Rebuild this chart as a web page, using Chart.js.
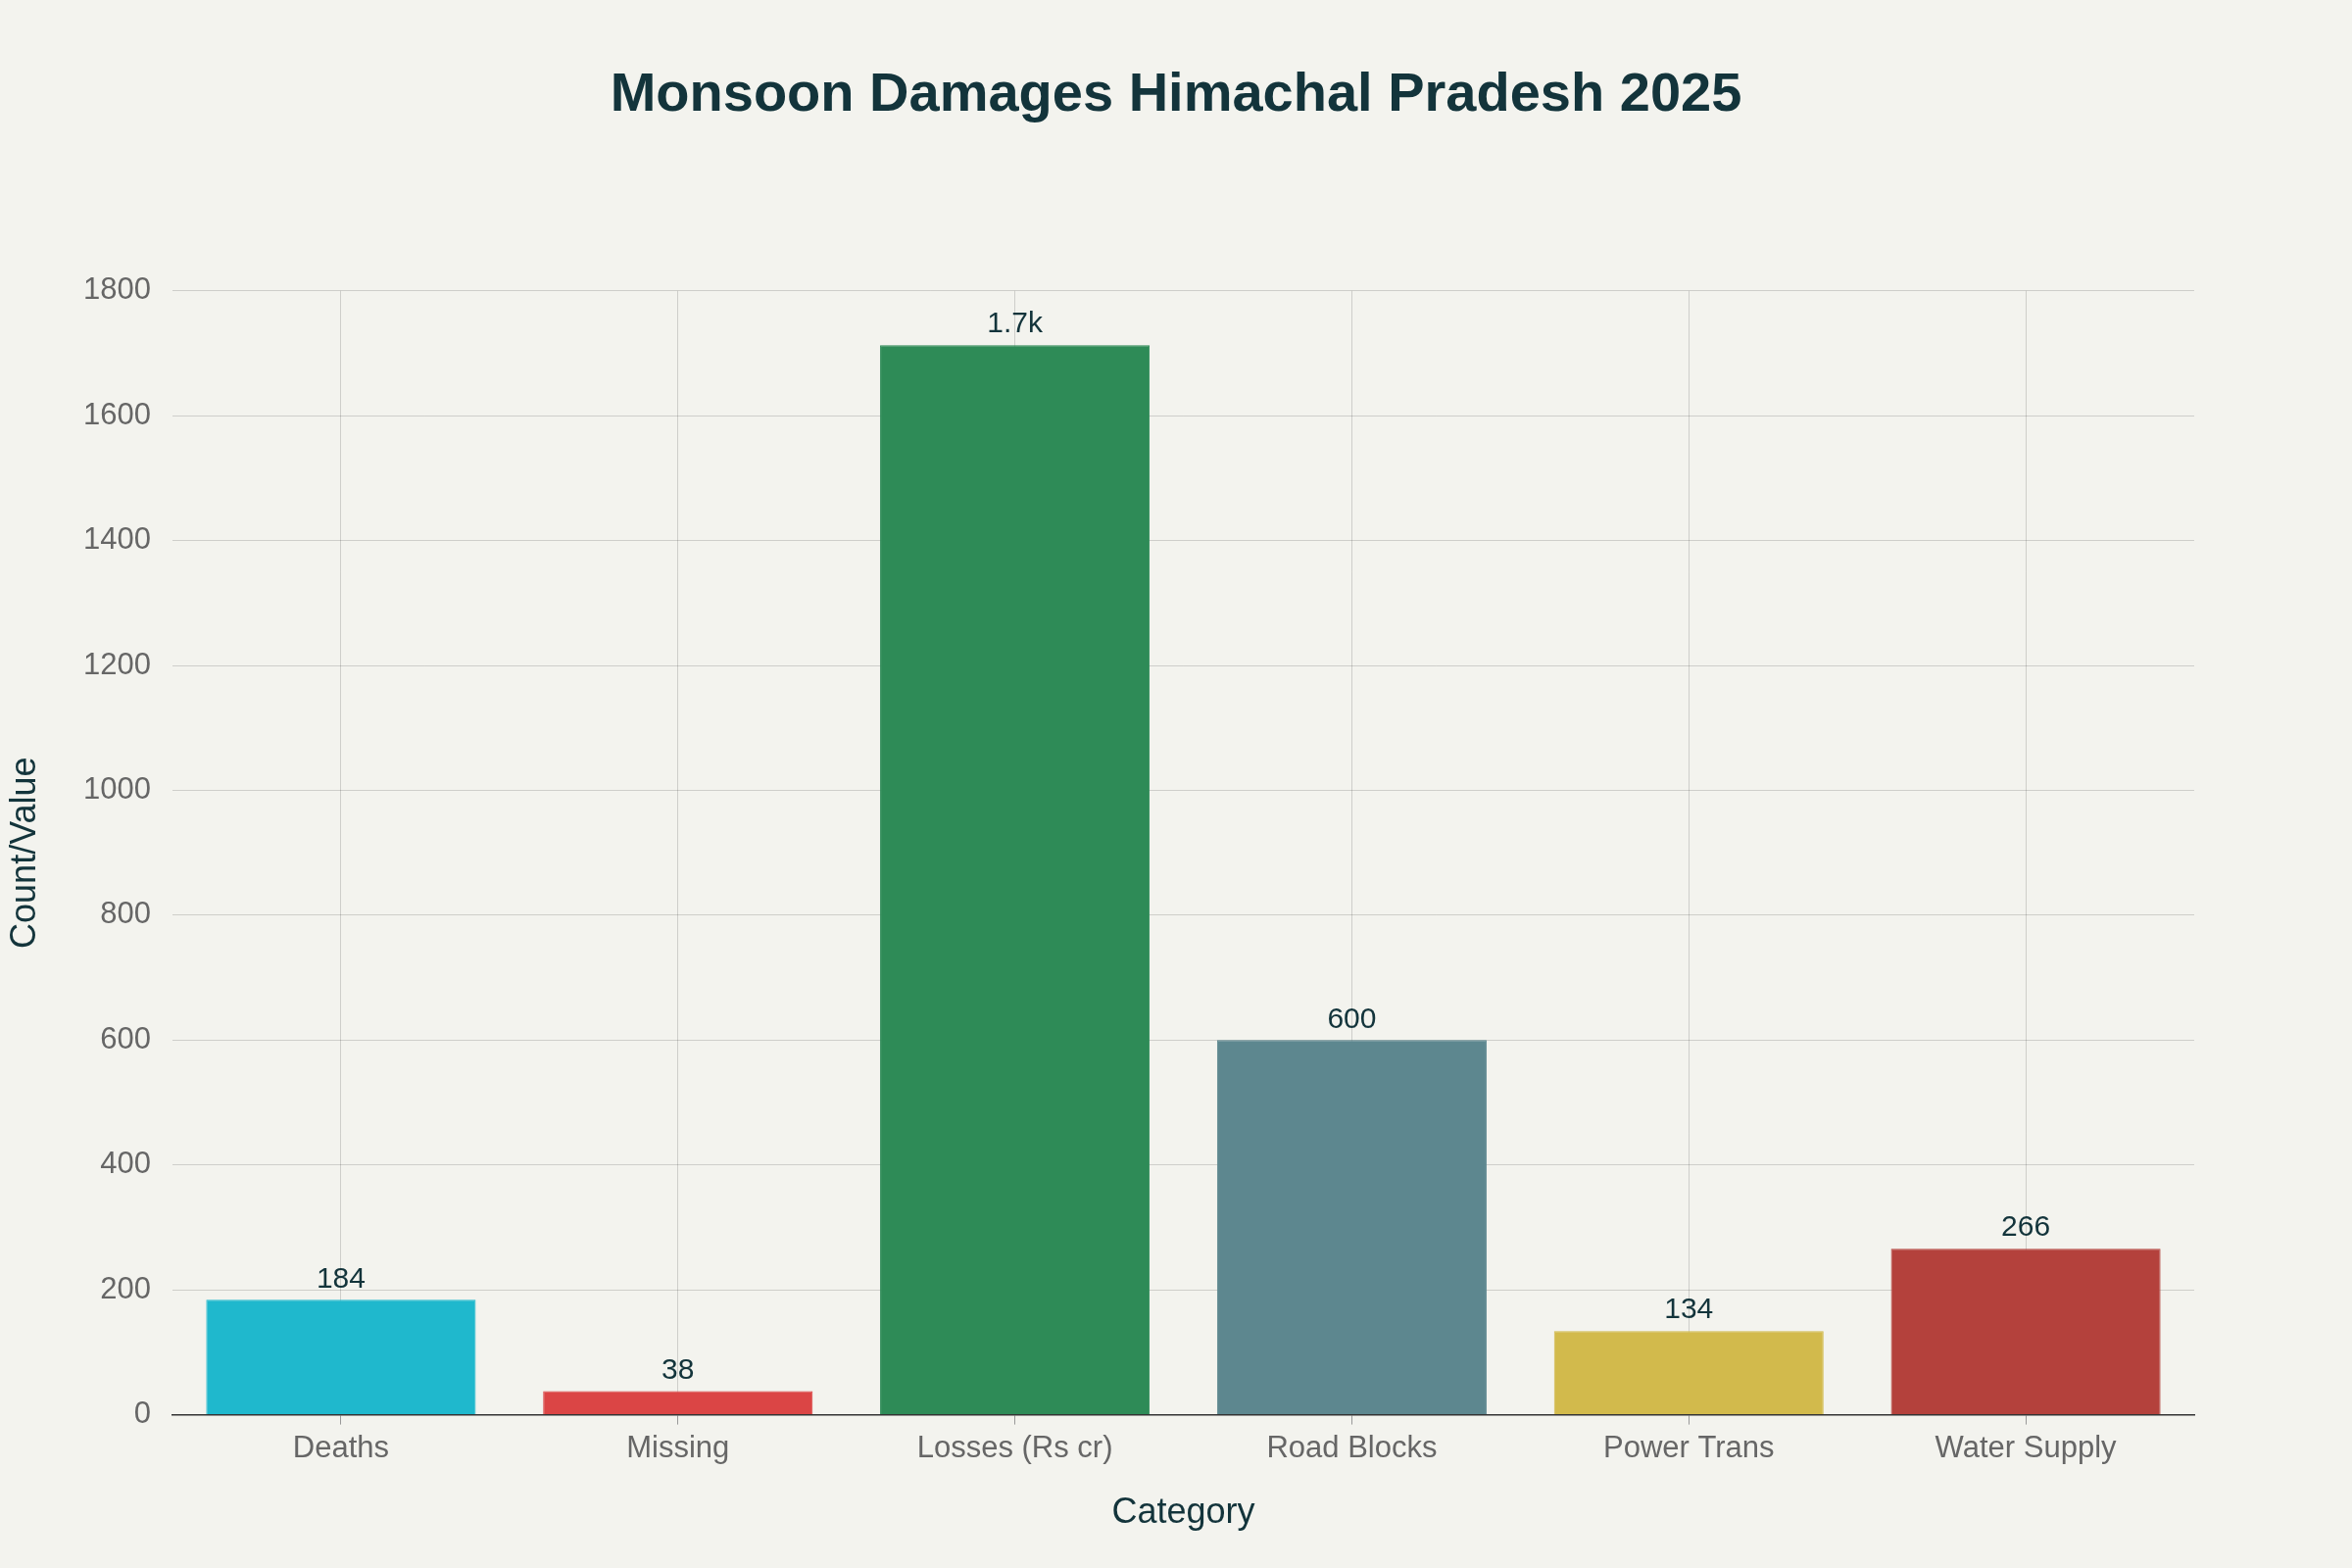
<!DOCTYPE html>
<html><head><meta charset="utf-8">
<script src="https://cdn.jsdelivr.net/npm/chart.js@4/dist/chart.umd.min.js"></script>
<style>html,body{margin:0;padding:0;background:#F3F3EE;}#w{width:2400px;height:1600px;}</style>
</head><body><div id="w"><canvas id="c"></canvas></div>
<script>
const categories = ["Deaths","Missing","Losses (Rs cr)","Road Blocks","Power Trans","Water Supply"];
const values = [184, 38, 1713, 600, 134, 266];
const valueLabels = ["184","38","1.7k","600","134","266"];
const colors = ["#1FB8CD","#DB4545","#2E8B57","#5D878F","#D2BA4C","#B4413C"];
const yTicks = [0,200,400,600,800,1000,1200,1400,1600,1800];
const titleText = "Monsoon Damages Himachal Pradesh 2025";

const F = "'Liberation Sans', Arial, sans-serif";
const labelPlugin = {
  id:'lbl',
  afterDatasetsDraw(chart){
    const ctx = chart.ctx;
    const meta = chart.getDatasetMeta(0);
    ctx.save();
    ctx.font = "30px " + F;
    ctx.fillStyle = "#13343B";
    ctx.textAlign = "center";
    ctx.textBaseline = "bottom";
    meta.data.forEach((b,i)=>{ ctx.fillText(valueLabels[i], b.x, b.y - 6); });
    ctx.font = "bold 56px " + F;
    ctx.textBaseline = "middle";
    ctx.fillText(titleText, chart.width/2, 98);
    ctx.restore();
  }
};
const bg = {id:'bg',beforeDraw(c){const x=c.ctx;x.save();x.fillStyle='#F3F3EE';x.fillRect(0,0,c.width,c.height);x.restore();}};

new Chart(document.getElementById('c'), {
  type:'bar',
  data:{labels:categories,datasets:[{data:values,backgroundColor:colors,borderColor:colors,borderWidth:1,categoryPercentage:0.8,barPercentage:1}]},
  options:{
    responsive:true,maintainAspectRatio:false,animation:false,devicePixelRatio:1,
    layout:{padding:{left:0,right:161,top:0,bottom:30}},
    plugins:{
      legend:{display:false},tooltip:{enabled:false},
      title:{display:true,text:titleText,color:"rgba(0,0,0,0)",
        font:{family:F,size:54,weight:'bold'},padding:{top:62,bottom:170}}
    },
    scales:{
      x:{grid:{offset:false,color:'rgba(0,0,0,0.15)',lineWidth:1,drawTicks:true,tickLength:10,tickColor:'#999'},
        border:{color:'#333',width:1.5},
        ticks:{color:'#666',font:{family:F,size:31},padding:6},
        title:{display:true,text:'Category',color:'#13343B',font:{family:F,size:36},padding:{top:20}}},
      y:{min:0,max:1800,
        afterBuildTicks(a){a.ticks=yTicks.map(v=>({value:v}));},
        afterFit(a){a.width=176;},
        grid:{color:'rgba(0,0,0,0.15)',lineWidth:1,drawTicks:false},
        border:{display:false},
        ticks:{color:'#666',font:{family:F,size:31},padding:22,callback:v=>String(v)},
        title:{display:true,text:'Count/Value',color:'#13343B',font:{family:F,size:36},padding:{bottom:14}}}
    }
  },
  plugins:[bg,labelPlugin]
});
</script></body></html>
